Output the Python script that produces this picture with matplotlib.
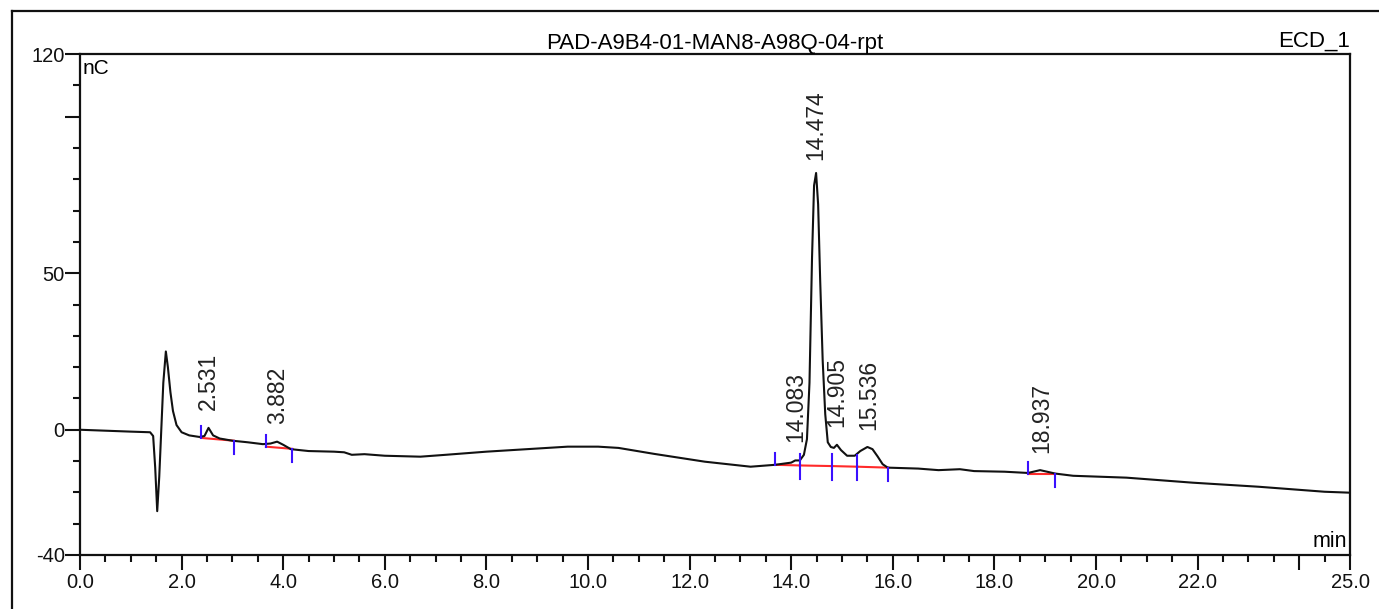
import numpy as np
import matplotlib
matplotlib.use("Agg")
from matplotlib import pyplot as plt
from matplotlib.lines import Line2D
from matplotlib.ticker import MultipleLocator, FixedLocator

plt.rcParams['font.family'] = ['Liberation Sans', 'DejaVu Sans']

# chromatogram trace (min, nC)
time_min = [0.0, 0.5, 1.0, 1.38, 1.44, 1.48, 1.52, 1.56, 1.60, 1.64, 1.69, 1.73, 1.78, 1.83,
            1.90, 2.0, 2.15, 2.35, 2.45, 2.53, 2.62, 2.75, 3.0, 3.3, 3.6, 3.75, 3.88, 4.0,
            4.15, 4.5, 5.0, 5.2, 5.35, 5.6, 6.0, 6.7, 7.2, 8.0, 8.9, 9.6, 10.2, 10.6, 11.3,
            12.3, 13.2, 13.68, 14.0, 14.08, 14.17, 14.25, 14.31, 14.36, 14.41, 14.45, 14.49,
            14.53, 14.57, 14.62, 14.67, 14.72, 14.78, 14.84, 14.9, 14.98, 15.1, 15.25, 15.36,
            15.5, 15.6, 15.7, 15.8, 15.9, 16.5, 16.9, 17.32, 17.6, 18.2, 18.66, 18.9, 19.2,
            19.55, 20.6, 21.9, 23.2, 24.5, 25.0]
signal_nc = [0.0, -0.3, -0.6, -0.8, -2.0, -12.0, -26.0, -15.0, 0.0, 15.0, 25.0, 20.0, 12.0, 6.0,
             1.5, -0.8, -1.8, -2.3, -2.0, 0.6, -1.8, -2.8, -3.5, -4.0, -4.6, -4.4, -3.8, -4.8,
             -6.2, -6.8, -7.0, -7.2, -8.0, -7.8, -8.3, -8.6, -8.0, -7.0, -6.1, -5.4, -5.4, -5.8, -7.7,
             -10.2, -11.8, -11.2, -10.5, -9.8, -9.8, -8.0, -3.0, 15.0, 55.0, 78.0, 82.0,
             72.0, 48.0, 22.0, 5.0, -4.0, -5.5, -5.8, -4.8, -6.5, -8.3, -8.3, -6.8,
             -5.5, -6.2, -8.5, -11.0, -12.1, -12.4, -12.9, -12.6, -13.2, -13.4, -13.8, -12.9, -14.0,
             -14.7, -15.3, -16.9, -18.2, -19.8, -20.1]

# integrated peaks
peak_rt = [2.531, 3.882, 14.083, 14.474, 14.905, 15.536, 18.937]
peak_start = [2.38, 3.66, 13.68, 14.17, 14.80, 15.30, 18.66]
peak_end = [3.03, 4.18, 14.17, 14.80, 15.30, 15.91, 19.19]
base_start = [-2.6, -5.4, -11.2, -11.4, -11.6, -11.8, -14.1]
base_end = [-3.5, -6.1, -11.4, -11.6, -11.8, -12.1, -14.1]

x_major = [0, 2, 4, 6, 8, 10, 12, 14, 16, 18, 20, 22, 24, 25]
x_labels = ['0.0', '2.0', '4.0', '6.0', '8.0', '10.0', '12.0', '14.0', '16.0', '18.0',
            '20.0', '22.0', '', '25.0']
y_major = [-40, 0, 50, 100, 120]
y_labels = ['-40', '0', '50', '', '120']

fig = plt.figure(figsize=(13.79, 6.09), dpi=100)
ax = fig.add_axes([80 / 1379, 54 / 609, 1270 / 1379, 501 / 609])

ax.plot(time_min, signal_nc, color='#111111', lw=1.5, zorder=3)

tick_col = '#3a10ff'
for rt, s, e, bs, be in zip(peak_rt, peak_start, peak_end, base_start, base_end):
    ax.plot([s, e], [bs, be], color='#ff2a2a', lw=1.5, zorder=2)
    ax.plot([s, s], [bs, bs + 3.8], color=tick_col, lw=1.5, zorder=4)
    ax.plot([e, e], [be, be - 4.3], color=tick_col, lw=1.5, zorder=4)
    apex = np.interp(rt, time_min, signal_nc)
    ax.annotate(f'{rt:.3f}', xy=(rt, apex), xytext=(0, 13), textcoords='offset points',
                rotation=90, ha='center', va='bottom', fontsize=16.5, color='#222222')

ax.set_xlim(0, 25)
ax.set_ylim(-40, 120)
ax.xaxis.set_major_locator(FixedLocator(x_major))
ax.set_xticklabels(x_labels)
ax.xaxis.set_minor_locator(MultipleLocator(0.5))
ax.yaxis.set_major_locator(FixedLocator(y_major))
ax.set_yticklabels(y_labels)
ax.yaxis.set_minor_locator(MultipleLocator(10))
ax.tick_params(which='major', length=11, width=1.5, labelsize=14.5, pad=2, colors='#111111')
ax.tick_params(which='minor', length=5, width=1.5, colors='#111111')
ax.tick_params(axis='y', pad=0)
for sp in ax.spines.values():
    sp.set_linewidth(1.6)
    sp.set_color('#111111')

ax.set_title('PAD-A9B4-01-MAN8-A98Q-04-rpt', fontsize=16, pad=3)
ax.text(1.0, 1.005, 'ECD_1', transform=ax.transAxes, ha='right', va='bottom', fontsize=16)
ax.text(0.002, 0.99, 'nC', transform=ax.transAxes, ha='left', va='top', fontsize=15)
ax.text(0.998, 0.006, 'min', transform=ax.transAxes, ha='right', va='bottom', fontsize=15.5)

# outer frame of the report panel
fig.add_artist(Line2D([12 / 1379, 1.0], [1 - 11 / 609] * 2, color='#111111', lw=1.6))
fig.add_artist(Line2D([12 / 1379] * 2, [0.0, 1 - 11 / 609], color='#111111', lw=1.6))

fig.savefig('out.png', dpi=100)
